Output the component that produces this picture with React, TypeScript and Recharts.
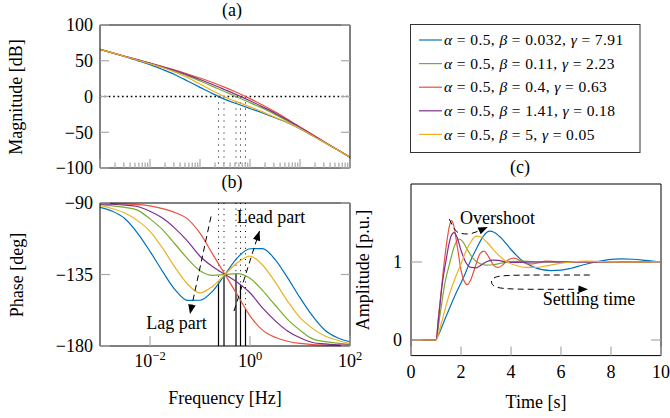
import React from 'react'
import { LineChart, Line, XAxis, YAxis, ReferenceLine, ReferenceDot } from 'recharts'

const FONT = "'Liberation Serif', 'DejaVu Serif', serif"
const TICK_GREY = '#a8a8a8'
const W = 670
const H = 418

// series, in legend order
const seriesKeys = ['s1', 's2', 's3', 's4', 's5']
const seriesColors = ['#0072BD', '#77AC30', '#E8513F', '#7E2F8E', '#EDB120']
const alphaVal = '0.5'
const betaVals = ['0.032', '0.11', '0.4', '1.41', '5']
const gammaVals = ['7.91', '2.23', '0.63', '0.18', '0.05']

// Bode plots, frequency in Hz
const freqHz = [0.001, 0.001778, 0.003162, 0.005623, 0.01, 0.01778, 0.03162, 0.05623, 0.1, 0.1778, 0.3162, 0.5623, 1, 1.778, 3.162, 5.623, 10, 17.78, 31.62, 56.23, 100]

const magBlue = [66, 61, 55.8, 50.2, 44.5, 37.8, 30.5, 21.8, 12.8, 4, -4, -10.5, -16.8, -23, -29.8, -36.5, -45, -55, -64.7, -74.6, -85]
const magGreen = [66, 61, 56, 51.2, 46.3, 40.8, 35, 28.8, 21.8, 14.2, 6.7, -1, -8.5, -16.5, -25, -34.3, -44, -54, -64.3, -74.6, -85]
const magRed = [66, 61, 56, 51.2, 46.6, 41.8, 36.8, 31.5, 25.8, 19.6, 12.8, 5.3, -3, -12, -21.5, -31.8, -42.5, -53.3, -63.9, -74.5, -85]
const magPurple = [66, 61.1, 56.3, 51.5, 46.8, 41.6, 36.3, 30.3, 23.8, 16.8, 9.4, 1.9, -6, -14.5, -23.3, -33, -43.3, -53.8, -64.2, -74.6, -85]
const magYellow = [66, 61, 56, 51, 46, 40.5, 34, 26.5, 17.5, 8, -0.6, -7.8, -14.5, -21.5, -29, -36.5, -44.8, -55, -64.7, -74.6, -85]

const phBlue = [-92.7, -95.2, -99.9, -108.9, -120.4, -133, -144.5, -151.3, -151.2, -145.6, -135, -124.4, -118.8, -118.7, -125.5, -137, -149.6, -161.1, -170.1, -174.8, -177.3]
const phGreen = [-91, -91.8, -92.8, -94.5, -100, -106.8, -115.8, -125, -132.6, -135.5, -135, -134.5, -137.4, -145, -154.2, -163.2, -170, -175.5, -177.2, -178.2, -179]
const phRed = [-90.2, -90.4, -90.6, -91, -91.8, -93.5, -96, -100, -109, -122, -135, -148, -161, -170, -174.5, -177, -178.4, -179.1, -179.4, -179.6, -179.8]
const phPurple = [-90.5, -90.8, -91.3, -92.2, -95.2, -99.5, -106, -114, -123.5, -130, -135, -140, -146.5, -156, -164, -170.5, -174.8, -177.8, -178.7, -179.2, -179.5]
const phYellow = [-91.5, -93.6, -96.3, -101.1, -107.8, -118.3, -130.5, -141, -146.6, -142.5, -135, -127.5, -123.4, -129, -139.5, -151.7, -162.2, -168.9, -173.7, -176.4, -178.5]

// gain crossover frequency and phase there, one per series
const crossFreq = [0.2344, 0.302, 0.5248, 0.6457, 0.8128]
const crossPhase = [-140.5, -135.6, -134.6, -141.6, -156.3]

// step responses
const stepBlueT = [0, 1, 1.05, 1.4, 1.8, 2.1, 2.36, 2.6, 2.85, 3.05, 3.15, 3.3, 3.6, 4.0, 4.4, 4.8, 5.2, 5.6, 6.0, 6.4, 6.9, 7.4, 7.9, 8.4, 8.9, 9.4, 10]
const stepBlueA = [0, 0, 0.03, 0.3, 0.6, 0.8, 1.0, 1.16, 1.31, 1.385, 1.395, 1.385, 1.31, 1.16, 1.03, 0.95, 0.905, 0.89, 0.895, 0.92, 0.965, 1.0, 1.03, 1.04, 1.035, 1.02, 1.0]
const stepGreenT = [0, 1, 1.15, 1.35, 1.56, 1.7, 1.8, 1.92, 2.05, 2.25, 2.5, 2.75, 3.0, 3.3, 3.6, 4.0, 4.5, 5.2, 10]
const stepGreenA = [0, 0, 0.3, 0.72, 1.0, 1.17, 1.25, 1.295, 1.27, 1.16, 1.04, 0.98, 0.96, 0.965, 0.985, 1.005, 1.01, 1.0, 1.0]
const stepRedT = [0, 1, 1.1, 1.2, 1.33, 1.45, 1.55, 1.63, 1.72, 1.85, 2.0, 2.12, 2.25, 2.4, 2.6, 2.75, 2.92, 3.1, 3.3, 3.49, 3.7, 3.9, 4.12, 4.35, 4.6, 4.85, 5.1, 5.4, 5.8, 6.5, 10]
const stepRedA = [0, 0, 0.3, 0.6, 1.0, 1.3, 1.48, 1.53, 1.45, 1.2, 0.9, 0.76, 0.71, 0.78, 0.97, 1.1, 1.14, 1.07, 0.96, 0.93, 0.97, 1.03, 1.05, 1.02, 0.98, 0.975, 0.99, 1.01, 1.005, 1.0, 1.0]
const stepPurpleT = [0, 1, 1.1, 1.25, 1.39, 1.5, 1.6, 1.72, 1.85, 2.0, 2.2, 2.4, 2.6, 2.8, 3.0, 3.25, 3.5, 3.8, 4.2, 5, 10]
const stepPurpleA = [0, 0, 0.27, 0.72, 1.0, 1.2, 1.33, 1.376, 1.31, 1.15, 0.99, 0.93, 0.925, 0.96, 1.0, 1.025, 1.02, 1.0, 0.995, 1.0, 1.0]
const stepYellowT = [0, 1, 1.2, 1.5, 1.8, 2.03, 2.2, 2.4, 2.6, 2.8, 3.05, 3.4, 3.8, 4.2, 4.6, 5.0, 5.4, 5.9, 6.4, 7.0, 7.6, 8.5, 10]
const stepYellowA = [0, 0, 0.2, 0.55, 0.82, 1.0, 1.14, 1.26, 1.333, 1.32, 1.25, 1.12, 1.01, 0.955, 0.93, 0.93, 0.95, 0.98, 1.0, 1.01, 1.005, 1.0, 1.0]

// annotation paths (data coordinates)
const lagArrow = [{ f: 0.166, p: -98.5 }, { f: 0.0631, p: -159.9 }]
const leadArrow = [{ f: 0.479, p: -158 }, { f: 1.549, p: -107.6 }]
const overshootPath = [{ t: 1.53, a: 1.55 }, { t: 1.75, a: 1.42 }, { t: 1.96, a: 1.37 }, { t: 2.3, a: 1.36 }, { t: 2.6, a: 1.385 }, { t: 2.85, a: 1.42 }]
const overshootTip = { t: 3.07, a: 1.45 }
const settlingPath = [{ t: 7.15, a: 0.833 }, { t: 5.5, a: 0.833 }, { t: 3.7, a: 0.833 }, { t: 3.2, a: 0.8 }, { t: 3.2, a: 0.69 }, { t: 3.7, a: 0.65 }, { t: 5.5, a: 0.65 }, { t: 6.95, a: 0.65 }]
const settlingTip = { t: 7.08, a: 0.65 }

const decadeTicks = [0.001, 0.01, 0.1, 1, 10, 100]
const minorTicks = [0.001, 0.01, 0.1, 1, 10].flatMap((d) => [2, 3, 4, 5, 6, 7, 8, 9].map((m) => +(m * d).toPrecision(3)))
const magTicksX = [...decadeTicks, ...minorTicks]

const magData = freqHz.map((f, i) => ({ f, s1: magBlue[i], s2: magGreen[i], s3: magRed[i], s4: magPurple[i], s5: magYellow[i] }))
const phaseData = freqHz.map((f, i) => ({ f, s1: phBlue[i], s2: phGreen[i], s3: phRed[i], s4: phPurple[i], s5: phYellow[i] }))
const stepData = [
  [stepBlueT, stepBlueA],
  [stepGreenT, stepGreenA],
  [stepRedT, stepRedA],
  [stepPurpleT, stepPurpleA],
  [stepYellowT, stepYellowA],
].map(([ts, as]) => ts.map((t, i) => ({ t, a: as[i] })))

const minus = (v: number) => (v < 0 ? '\u2212' + Math.abs(v) : String(v))
const fontStyle = { fontFamily: FONT }

type Side = 'bottom' | 'top' | 'left' | 'right'
const tickRenderer =
  (side: Side, opts: { majors?: number[]; major?: number; minor?: number; label?: (v: number) => React.ReactNode; off?: number } = {}) =>
  (p: any) => {
    const v = p.payload.value
    const isMajor = !opts.majors || opts.majors.some((m) => Math.abs(m - v) < m * 1e-6)
    const L = isMajor ? opts.major ?? 9 : opts.minor ?? 5.5
    const { x, y } = p
    const c =
      side === 'bottom' ? [x, y, x, y - L] : side === 'top' ? [x, y, x, y + L] : side === 'left' ? [x, y, x + L, y] : [x, y, x - L, y]
    const lab = opts.label ? opts.label(v) : null
    return (
      <g>
        <line x1={c[0]} y1={c[1]} x2={c[2]} y2={c[3]} stroke={TICK_GREY} strokeWidth={1.2} />
        {lab !== null && side === 'bottom' && (
          <text x={x} y={y + (opts.off ?? 20)} textAnchor="middle" fontSize={18} style={fontStyle} fill="#000">
            {lab}
          </text>
        )}
        {lab !== null && side === 'left' && (
          <text x={x - (opts.off ?? 7)} y={y} dy="0.35em" textAnchor="end" fontSize={18} style={fontStyle} fill="#000">
            {lab}
          </text>
        )}
      </g>
    )
  }

const powLabel = (v: number) => {
  const e = Math.round(Math.log10(v))
  return (
    <>
      <tspan>10</tspan>
      <tspan dy={-7} fontSize={12.5}>
        {minus(e)}
      </tspan>
    </>
  )
}

const arrowHead = (angle: number) => (p: any) =>
  <path d="M0,0 L-9.5,-3.8 L-9.5,3.8 Z" fill="#000" transform={`translate(${p.cx},${p.cy}) rotate(${angle})`} />

// axes need a non-zero size to be drawn, so they get 1px and the margins give it back
const frame = { stroke: '#000', strokeWidth: 1 }
const axisCommon = { tickSize: 0, tickMargin: 0, tickLine: false, axisLine: frame, interval: 0 as const, allowDataOverflow: true }

const layer: React.CSSProperties = { position: 'absolute', left: 0, top: 0 }

function MagnitudeChart() {
  return (
    <div style={layer}>
      <LineChart width={W} height={H} data={magData} margin={{ top: 24, right: 319, bottom: 249, left: 99 }}>
        <XAxis {...axisCommon} dataKey="f" type="number" scale="log" domain={[0.001, 100]} ticks={magTicksX} height={1} tick={tickRenderer('bottom', { majors: decadeTicks })} />
        <XAxis {...axisCommon} xAxisId="top" orientation="top" type="number" scale="log" domain={[0.001, 100]} ticks={magTicksX} height={1} tick={tickRenderer('top', { majors: decadeTicks })} />
        <YAxis {...axisCommon} type="number" domain={[-100, 100]} ticks={[-100, -50, 0, 50, 100]} width={1} tick={tickRenderer('left', { major: 9, label: minus })} />
        <YAxis {...axisCommon} yAxisId="right" orientation="right" type="number" domain={[-100, 100]} ticks={[-100, -50, 0, 50, 100]} width={1} tick={tickRenderer('right', { major: 9 })} />
        <ReferenceLine y={0} stroke="#000" strokeWidth={1.6} strokeDasharray="1.6 2.8" />
        {crossFreq.map((f, i) => (
          <ReferenceLine key={i} segment={[{ x: f, y: 0 }, { x: f, y: -100 }]} stroke="#000" strokeWidth={1} strokeDasharray="1 5" />
        ))}
        {seriesKeys.map((k, i) => (
          <Line key={k} dataKey={k} type="monotone" stroke={seriesColors[i]} strokeWidth={1.2} dot={false} isAnimationActive={false} />
        ))}
      </LineChart>
    </div>
  )
}

function PhaseChart() {
  return (
    <div style={layer}>
      <LineChart width={W} height={H} data={phaseData} margin={{ top: 202, right: 319, bottom: 71, left: 99 }}>
        <XAxis {...axisCommon} dataKey="f" type="number" scale="log" domain={[0.001, 100]} ticks={[0.01, 1, 100]} height={1} tick={tickRenderer('bottom', { major: 10, label: powLabel, off: 20.5 })} />
        <XAxis {...axisCommon} xAxisId="top" orientation="top" type="number" scale="log" domain={[0.001, 100]} ticks={[0.01, 1]} height={1} tick={tickRenderer('top', { major: 9 })} />
        <YAxis {...axisCommon} type="number" domain={[-180, -90]} ticks={[-180, -135, -90]} width={1} tick={tickRenderer('left', { major: 10, label: minus })} />
        <YAxis {...axisCommon} yAxisId="right" orientation="right" type="number" domain={[-180, -90]} ticks={[-180, -135, -90]} width={1} tick={tickRenderer('right', { major: 9 })} />
        {crossFreq.map((f, i) => (
          <ReferenceLine key={'d' + i} segment={[{ x: f, y: -90 }, { x: f, y: crossPhase[i] }]} stroke="#000" strokeWidth={1} strokeDasharray="1 4.6" />
        ))}
        {crossFreq.map((f, i) => (
          <ReferenceLine key={'s' + i} segment={[{ x: f, y: crossPhase[i] }, { x: f, y: -180 }]} stroke="#000" strokeWidth={1.2} />
        ))}
        {seriesKeys.map((k, i) => (
          <Line key={k} dataKey={k} type="monotone" stroke={seriesColors[i]} strokeWidth={1.2} dot={false} isAnimationActive={false} />
        ))}
        <ReferenceLine segment={[{ x: lagArrow[0].f, y: lagArrow[0].p }, { x: lagArrow[1].f, y: lagArrow[1].p }]} stroke="#000" strokeWidth={1} strokeDasharray="6 4" />
        <ReferenceDot x={lagArrow[1].f} y={lagArrow[1].p} shape={arrowHead(102)} />
        <ReferenceLine segment={[{ x: leadArrow[0].f, y: leadArrow[0].p }, { x: leadArrow[1].f, y: leadArrow[1].p }]} stroke="#000" strokeWidth={1} strokeDasharray="6 4" />
        <ReferenceDot x={leadArrow[1].f} y={leadArrow[1].p} shape={arrowHead(-72)} />
      </LineChart>
    </div>
  )
}

function StepChart() {
  return (
    <div style={layer}>
      <LineChart width={W} height={H} margin={{ top: 183, right: 8, bottom: 61.4, left: 410 }}>
        <XAxis {...axisCommon} dataKey="t" type="number" domain={[0, 10]} ticks={[0, 2, 4, 6, 8, 10]} height={1} tick={tickRenderer('bottom', { major: 9, label: String, off: 22 })} />
        <XAxis {...axisCommon} xAxisId="top" orientation="top" type="number" domain={[0, 10]} ticks={[0, 2, 4, 6, 8, 10]} height={1} tick={tickRenderer('top', { major: 9 })} />
        <YAxis {...axisCommon} type="number" domain={[-0.2, 2]} ticks={[0, 1]} width={1} tick={tickRenderer('left', { major: 11, label: String, off: 9 })} />
        <YAxis {...axisCommon} yAxisId="right" orientation="right" type="number" domain={[-0.2, 2]} ticks={[0, 1]} width={1} tick={tickRenderer('right', { major: 10 })} />
        {stepData.map((d, i) => (
          <Line key={i} data={d} dataKey="a" type="monotone" stroke={seriesColors[i]} strokeWidth={1.2} dot={false} isAnimationActive={false} />
        ))}
        <Line data={overshootPath} dataKey="a" type="natural" stroke="#000" strokeWidth={1} strokeDasharray="6 4" dot={false} isAnimationActive={false} />
        <ReferenceDot x={overshootTip.t} y={overshootTip.a} shape={arrowHead(-25)} />
        <Line data={settlingPath} dataKey="a" type="basis" stroke="#000" strokeWidth={1} strokeDasharray="6 4" dot={false} isAnimationActive={false} />
        <ReferenceDot x={settlingTip.t} y={settlingTip.a} shape={arrowHead(0)} />
      </LineChart>
    </div>
  )
}

function Texts() {
  const t = (x: number, y: number, s: string, rot = false, size = 18) => (
    <text x={x} y={y} dy="0.35em" textAnchor="middle" fontSize={size} style={fontStyle} fill="#000" transform={rot ? `rotate(-90 ${x} ${y})` : undefined}>
      {s}
    </text>
  )
  const eq = ' = '
  return (
    <svg width={W} height={H} style={{ ...layer, pointerEvents: 'none' }}>
      {t(232, 10, '(a)')}
      {t(232, 182, '(b)')}
      {t(520, 167, '(c)')}
      {t(16, 97, 'Magnitude [dB]', true)}
      {t(17, 275, 'Phase [deg]', true)}
      {t(225, 398, 'Frequency [Hz]')}
      {t(536, 402, 'Time [s]')}
      {t(363, 270, 'Amplitude [p.u.]', true)}
      {t(176.5, 323, 'Lag part')}
      {t(271, 216.5, 'Lead part')}
      {t(497.5, 218, 'Overshoot')}
      {t(589, 299, 'Settling time')}
      <rect x={410.5} y={24.5} width={229.5} height={128} fill="#fff" stroke="#333" strokeWidth={1} />
      {seriesColors.map((c, i) => {
        const y = 40 + i * 23.6
        return (
          <g key={c}>
            <line x1={419} x2={442} y1={y} y2={y} stroke={c} strokeWidth={1.2} />
            <text x={444} y={y} dy="0.33em" fontSize={15.5} letterSpacing={0.4} style={{ ...fontStyle, whiteSpace: 'pre' }} fill="#000">
              <tspan fontStyle="italic">α</tspan>
              {eq + alphaVal + ', '}
              <tspan fontStyle="italic">β</tspan>
              {eq + betaVals[i] + ', '}
              <tspan fontStyle="italic">γ</tspan>
              {eq + gammaVals[i]}
            </text>
          </g>
        )
      })}
    </svg>
  )
}

export default function App() {
  return (
    <div style={{ position: 'absolute', left: 0, top: 0, width: W, height: H, background: '#fff', fontFamily: FONT }}>
      <MagnitudeChart />
      <PhaseChart />
      <StepChart />
      <Texts />
    </div>
  )
}
